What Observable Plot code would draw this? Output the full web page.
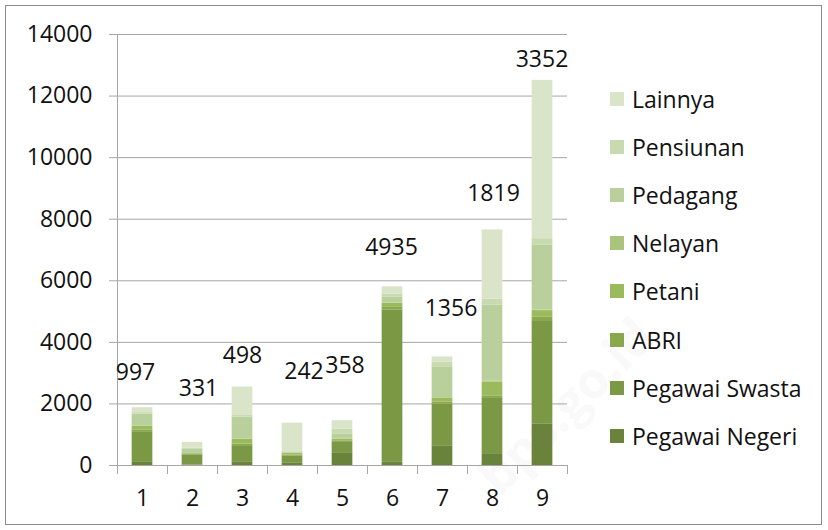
<!DOCTYPE html>
<html><head><meta charset="utf-8">
<script src="https://cdn.jsdelivr.net/npm/d3@7"></script>
<script src="https://cdn.jsdelivr.net/npm/@observablehq/plot@0.6"></script>
<style>
body{margin:0;background:#fff;font-family:"Open Sans",sans-serif;}
#wrap{position:relative;width:828px;height:530px;overflow:hidden;background:#fff;}
#frame{position:absolute;left:5px;top:5px;width:817px;height:520px;border:1.5px solid #8c8c8c;box-sizing:border-box;pointer-events:none;}
#chart{position:absolute;left:0;top:0;}
#legend{position:absolute;left:610px;top:0;}
.row{position:absolute;left:0;height:30px;display:flex;align-items:center;white-space:nowrap;font-size:23px;color:#111;}
.sw{width:14px;height:14px;margin-right:8px;flex:none;}
#wm{position:absolute;left:565px;top:405px;font-size:50px;font-weight:bold;color:rgba(120,120,120,0.045);transform:translate(-50%,-50%) rotate(-45deg);white-space:nowrap;pointer-events:none;}
</style></head><body>
<div id="wrap"><div id="chart"></div><div id="legend"></div><div id="wm">bps.go.id</div><div id="frame"></div></div>
<script>
// ---- data ----
const categories = [1, 2, 3, 4, 5, 6, 7, 8, 9];
const series = ["Pegawai Negeri", "Pegawai Swasta", "ABRI", "Petani", "Nelayan", "Pedagang", "Pensiunan", "Lainnya"];
const colors = ["#6a833a", "#7b9945", "#89a94c", "#9abb5b", "#a9c57c", "#bad09c", "#c8dab0", "#d9e4c9"];
const pegawaiNegeri = [100, 15, 120, 70, 415, 120, 640, 384, 1354];
const pegawaiSwasta = [997, 331, 498, 242, 358, 4935, 1356, 1819, 3352];
const abri = [60, 15, 80, 30, 30, 80, 70, 60, 108];
const petani = [110, 25, 150, 45, 48, 130, 120, 452, 217];
const nelayan = [20, 5, 20, 10, 5, 10, 20, 30, 20];
const pedagang = [380, 150, 700, 40, 170, 200, 1000, 2460, 2100];
const pensiunan = [50, 20, 60, 10, 150, 90, 150, 195, 217];
const lainnya = [160, 190, 920, 930, 280, 238, 170, 2252, 5142];
// data labels (values of Pegawai Swasta) and where they sit, in data units
const labelText = ["997", "331", "498", "242", "358", "4935", "1356", "1819", "3352"];
const labelX = [0.86, 2.12, 3.0, 4.23, 5.05, 5.98, 7.17, 8.02, 8.99];
const labelY = [3021, 2501, 3573, 3037, 3232, 7081, 5083, 8835, 13170];
const yTicks = [0, 2000, 4000, 6000, 8000, 10000, 12000, 14000];

// ---- build ----
const valueArrays = [pegawaiNegeri, pegawaiSwasta, abri, petani, nelayan, pedagang, pensiunan, lainnya];
const halfW = 0.207;
const rects = [];
categories.forEach((c, i) => {
  let acc = 0;
  valueArrays.forEach((arr, k) => {
    rects.push({cat: c, series: series[k], y1: acc, y2: acc + arr[i]});
    acc += arr[i];
  });
});
const labels = labelText.map((t, i) => ({t, x: labelX[i], y: labelY[i]}));
const bounds = [categories[0] - 0.5, ...categories.map(c => c + 0.5)];
const axisColor = "#a6a6a6";
const textColor = "#111";
const fs = 23;

const chart = Plot.plot({
  width: 590, height: 530,
  marginLeft: 117, marginRight: 23, marginTop: 34, marginBottom: 65,
  x: {domain: [bounds[0], bounds[bounds.length - 1]]},
  y: {domain: [0, 14000]},
  color: {domain: series, range: colors},
  style: {fontFamily: "'Open Sans', sans-serif", fontSize: fs + "px", color: textColor, background: "transparent"},
  marks: [
    Plot.gridY(yTicks, {stroke: axisColor, strokeOpacity: 1}),
    Plot.rect(rects, {x1: d => d.cat - halfW, x2: d => d.cat + halfW, y1: "y1", y2: "y2", fill: "series"}),
    Plot.ruleX([bounds[0]], {stroke: axisColor}),
    Plot.ruleY([0], {stroke: axisColor}),
    Plot.axisY(yTicks, {tickSize: 8, tickPadding: 17, stroke: axisColor, tickFormat: d => String(d), fill: textColor, fontSize: fs, label: null}),
    Plot.axisX(bounds, {tickSize: 9, tickFormat: () => "", stroke: axisColor, label: null}),
    Plot.axisX(categories, {tickSize: 0, tickPadding: 24, tickFormat: d => String(d), fill: textColor, fontSize: fs, label: null}),
    Plot.text(labels, {x: "x", y: "y", text: "t", fontSize: fs, fill: textColor, textAnchor: "middle", lineAnchor: "middle"})
  ]
});
document.getElementById("chart").appendChild(chart);

// legend (top to bottom: reverse of stacking order)
const legend = document.getElementById("legend");
const legendOrder = series.map((s, k) => ({s, c: colors[k]})).reverse();
legendOrder.forEach((d, i) => {
  const row = document.createElement("div");
  row.className = "row";
  row.style.top = (99 + i * 48.1 - 15) + "px";
  const sw = document.createElement("div");
  sw.className = "sw";
  sw.style.background = d.c;
  const tx = document.createElement("span");
  tx.textContent = d.s;
  row.appendChild(sw);
  row.appendChild(tx);
  legend.appendChild(row);
});
</script>
</body></html>
